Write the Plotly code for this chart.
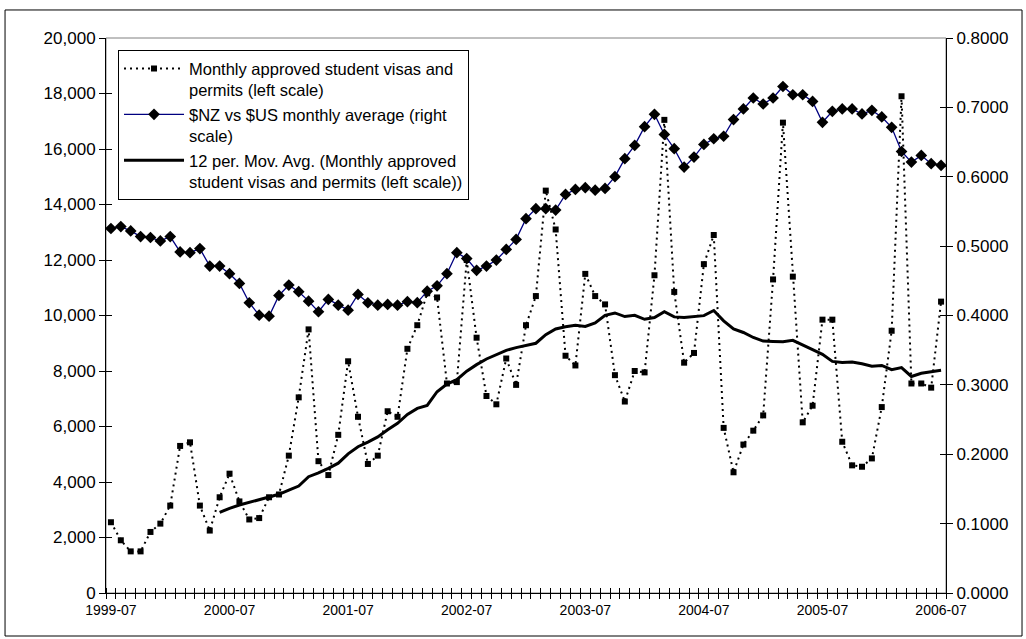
import pandas as pd
import plotly.graph_objects as go

# ---- data ----
months = pd.period_range("1999-07", "2006-07", freq="M").strftime("%Y-%m").tolist()

visas = [2550, 1900, 1500, 1500, 2200, 2500, 3150, 5300, 5430, 3150, 2250, 3450,
         4300, 3300, 2650, 2700, 3450, 3550, 4950, 7050, 9500, 4750, 4250, 5700,
         8350, 6350, 4650, 4950, 6550, 6350, 8800, 9650, 10800, 10650, 7550, 7600,
         12000, 9200, 7100, 6800, 8450, 7500, 9650, 10700, 14500, 13100, 8550, 8200,
         11500, 10700, 10400, 7850, 6900, 8000, 7950, 11450, 17050, 10850, 8300, 8650,
         11850, 12900, 5950, 4350, 5350, 5850, 6400, 11300, 16950, 11400, 6150, 6750,
         9850, 9850, 5450, 4600, 4550, 4850, 6700, 9450, 17900, 7550, 7550, 7400,
         10500]

nzd_usd = [0.5254, 0.5282, 0.5219, 0.5138, 0.5124, 0.5075, 0.5138, 0.4916, 0.4906, 0.4964,
           0.4712, 0.4712, 0.4603, 0.4462, 0.4184, 0.4004, 0.3990, 0.4289, 0.4438, 0.4343,
           0.4207, 0.4054, 0.4232, 0.4149, 0.4077, 0.4304, 0.4184, 0.4149, 0.4159, 0.4149,
           0.4200, 0.4185, 0.4351, 0.4428, 0.4603, 0.4906, 0.4820, 0.4651, 0.4712, 0.4799,
           0.4953, 0.5097, 0.5395, 0.5540, 0.5540, 0.5519, 0.5745, 0.5818, 0.5842, 0.5807,
           0.5832, 0.6001, 0.6260, 0.6452, 0.6722, 0.6900, 0.6610, 0.6404, 0.6139, 0.6283,
           0.6466, 0.6548, 0.6584, 0.6824, 0.6977, 0.7135, 0.7049, 0.7135, 0.7301, 0.7182,
           0.7182, 0.7086, 0.6785, 0.6943, 0.6977, 0.6977, 0.6905, 0.6957, 0.6862, 0.6713,
           0.6364, 0.6211, 0.6307, 0.6188, 0.6164]

label_months = months[::12]

names = ["Monthly approved student visas and<br>permits (left scale)",
         "$NZ vs $US monthly average (right<br>scale)",
         "12 per. Mov. Avg. (Monthly approved<br>student visas and permits (left scale))"]

# ---- derived ----
xi = list(range(len(months)))
moving_avg = pd.Series(visas).rolling(12).mean().tolist()
label_pos = [months.index(m) for m in label_months]
boundaries = [i - 0.5 for i in range(len(months) + 1)]

FONT = "Liberation Sans, Arial, sans-serif"

fig = go.Figure()
fig.add_trace(go.Scatter(
    x=xi, y=visas, name=names[0], legendrank=1, customdata=months,
    mode="lines+markers",
    line=dict(color="black", width=2, dash="2px,4px"),
    marker=dict(symbol="square", size=6, color="black"),
))
fig.add_trace(go.Scatter(
    x=xi, y=moving_avg, name=names[2], legendrank=3,
    mode="lines", line=dict(color="black", width=3),
))
fig.add_trace(go.Scatter(
    x=xi, y=nzd_usd, name=names[1], legendrank=2, yaxis="y2",
    mode="lines+markers",
    line=dict(color="#000080", width=1.3),
    marker=dict(symbol="diamond", size=9, color="black"),
))
# helper traces so that overlay tick axes are drawn
fig.add_trace(go.Scatter(x=[], y=[], xaxis="x2", yaxis="y3", showlegend=False, hoverinfo="skip"))
fig.add_trace(go.Scatter(x=[], y=[], xaxis="x2", yaxis="y4", showlegend=False, hoverinfo="skip"))

xr = [-0.5, len(months) - 0.5]
fig.update_layout(
    width=1026, height=639,
    margin=dict(l=106, r=80, t=38, b=46, autoexpand=False),
    paper_bgcolor="white", plot_bgcolor="white",
    font=dict(family=FONT, size=17, color="black"),
    showlegend=True,
    legend=dict(x=0.0143, y=0.978, xanchor="left", yanchor="top",
                bordercolor="black", borderwidth=1, bgcolor="white",
                font=dict(family=FONT, size=16.5, color="black"),
                itemwidth=60, valign="top", traceorder="normal", tracegroupgap=4),
    xaxis=dict(range=xr, tickmode="array", tickvals=label_pos, ticktext=label_months,
               ticks="", showgrid=False, zeroline=False, showline=True,
               linecolor="black", linewidth=1, tickfont=dict(size=14),
               ticklabelstandoff=4,
               minor=dict(tickmode="array", tickvals=boundaries, ticks="outside",
                          ticklen=5, tickcolor="black", showgrid=False)),
    xaxis2=dict(range=xr, overlaying="x", anchor="y", showticklabels=False,
                showgrid=False, zeroline=False, ticks="",
                minor=dict(tickmode="array", tickvals=boundaries, ticks="inside",
                           ticklen=5, tickcolor="black", showgrid=False)),
    yaxis=dict(range=[0, 20000], dtick=2000, tickformat=",", ticks="outside",
               ticklen=6, tickcolor="black", showgrid=False, zeroline=False,
               showline=True, linecolor="black", linewidth=1, tickfont=dict(size=17)),
    yaxis2=dict(range=[0, 0.8], dtick=0.1, tickformat=".4f", overlaying="y", side="right",
                ticks="outside", ticklen=6, tickcolor="black", showgrid=False,
                zeroline=False, showline=True, linecolor="black", linewidth=1,
                tickfont=dict(size=17)),
    yaxis3=dict(range=[0, 20000], dtick=2000, overlaying="y", side="left", anchor="x2",
                ticks="inside", ticklen=6, tickcolor="black", showticklabels=False,
                showgrid=False, zeroline=False),
    yaxis4=dict(range=[0, 0.8], dtick=0.1, overlaying="y", side="right", anchor="x2",
                ticks="inside", ticklen=6, tickcolor="black", showticklabels=False,
                showgrid=False, zeroline=False),
    shapes=[
        dict(type="rect", xref="paper", yref="paper", x0=0, x1=1, y0=0, y1=1,
             line=dict(color="#808080", width=1), layer="below"),
        dict(type="rect", xref="paper", yref="paper", x0=-0.1202, x1=1.0905,
             y0=-0.0775, y1=1.0505, line=dict(color="black", width=1), layer="below"),
    ],
)

fig.write_html("out.html", config={"displayModeBar": False},
               post_script="document.body.style.margin='0';")
